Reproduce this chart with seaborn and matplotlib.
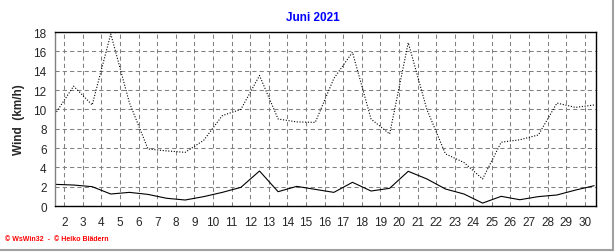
import matplotlib
matplotlib.use("Agg")
import matplotlib.pyplot as plt
from matplotlib.lines import Line2D
from matplotlib.ticker import MultipleLocator
import seaborn as sns
import pandas as pd

days = list(range(1, 31))
gust = [9.5, 12.4, 10.45, 17.8, 10.7, 5.9, 5.7, 5.55, 6.8, 9.35,
        10.0, 13.5, 9.0, 8.7, 8.65, 13.2, 15.9, 9.0, 7.45, 16.9,
        10.0, 5.4, 4.5, 2.8, 6.6, 6.85, 7.35, 10.65, 10.2, 10.45]
avg = [2.24, 2.17, 2.0, 1.24, 1.41, 1.2, 0.8, 0.62, 0.97, 1.41,
       1.93, 3.62, 1.48, 2.03, 1.72, 1.41, 2.45, 1.55, 1.83, 3.59,
       2.8, 1.76, 1.24, 0.3, 1.0, 0.65, 0.97, 1.14, 1.65, 2.1]
tick_days = list(range(2, 31))
title = "Juni 2021"
ylabel = "Wind  (km/h)"
footer = "\u00a9 WsWin32  -  \u00a9 Heiko Blädern"

df = pd.DataFrame({"pos": [d + 0.5 for d in days], "gust": gust, "avg": avg})

sns.set_style("white")
plt.rcParams["font.family"] = ["Liberation Sans", "DejaVu Sans"]

fig = plt.figure(figsize=(6.16, 2.53), dpi=100)
ax = fig.add_axes([55 / 616, 1 - 207 / 253, 541 / 616, 174 / 253])

sns.lineplot(data=df, x="pos", y="gust", ax=ax, color="black",
             linestyle=(0, (1, 1.5)), linewidth=0.8)
sns.lineplot(data=df, x="pos", y="avg", ax=ax, color="black", linewidth=0.8)

ax.set_xlim(1.5, 30.6)
ax.set_ylim(0, 18)
ax.set_xticks(tick_days)
ax.set_xticklabels([str(d) for d in tick_days], fontsize=8.5)
ax.xaxis.set_minor_locator(MultipleLocator(1 / 6))
ax.yaxis.set_major_locator(MultipleLocator(2))
ax.yaxis.set_minor_locator(MultipleLocator(1))
ax.tick_params(axis="y", labelsize=8.5, length=4, width=0.8, color="#808080", pad=2)
ax.tick_params(axis="y", which="minor", length=2, color="#808080")
ax.tick_params(axis="x", which="major", length=3, width=0.8, color="#808080", pad=4)
ax.tick_params(axis="x", which="minor", length=2, width=0.6, color="#808080", direction="out")

ax.grid(True, which="major", color="#808080", linestyle=(0, (4, 3)), linewidth=0.75)
ax.set_xlabel("")
ax.set_ylabel(ylabel, fontsize=8.5, fontweight="bold", labelpad=6)

for s in ["top", "right", "bottom"]:
    ax.spines[s].set_color("black")
    ax.spines[s].set_linewidth(1.0)
ax.spines["left"].set_color("#808080")
ax.spines["left"].set_linewidth(1.0)

fig.text(313 / 616, 1 - 18 / 253, title, color="#0000ff", fontsize=8.5,
         fontweight="bold", ha="center", va="center")
fig.text(5 / 616, 1 - 240 / 253, footer, color="#ff0000", fontsize=5,
         fontweight="bold", ha="left", va="center")

fig.add_artist(Line2D([613 / 616, 613 / 616], [1 - 251 / 253, 1], color="#a0a0a0",
                      linewidth=1.5, transform=fig.transFigure))
fig.add_artist(Line2D([0, 613 / 616], [1 - 251 / 253, 1 - 251 / 253], color="#a0a0a0",
                      linewidth=1.5, transform=fig.transFigure))

fig.savefig("out.png", dpi=100)
